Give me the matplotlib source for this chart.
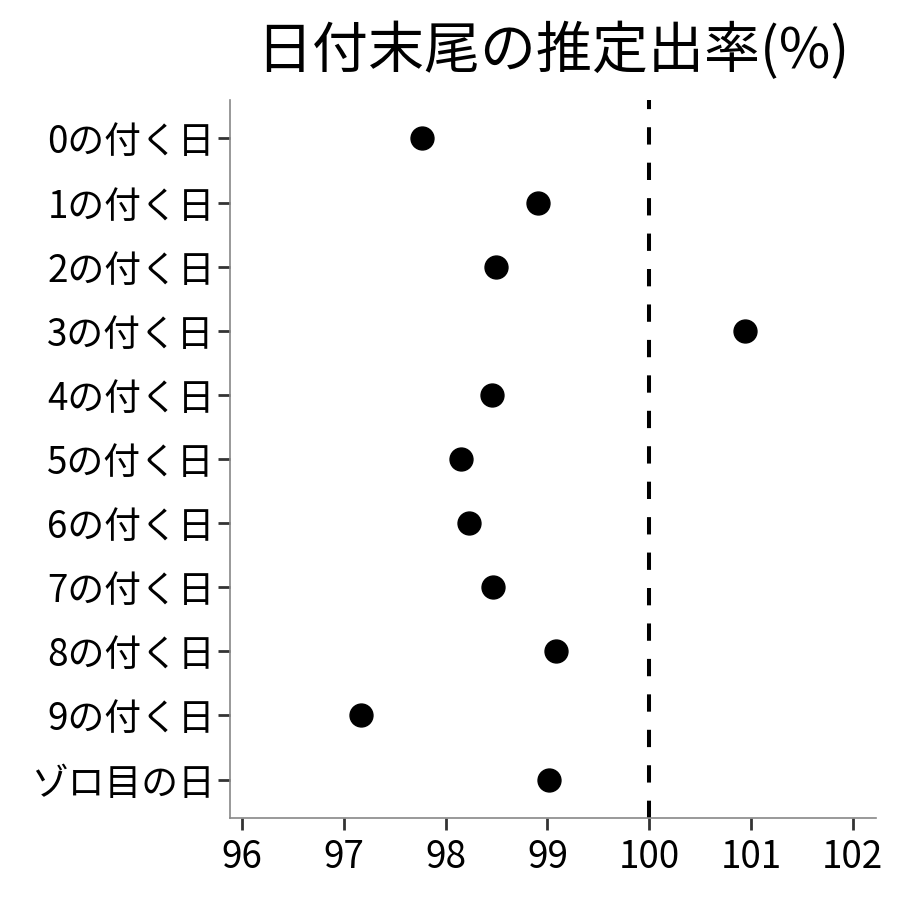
import matplotlib
matplotlib.use("Agg")
import matplotlib.pyplot as plt

plt.rcParams['font.family'] = ['Noto Sans CJK JP', 'DejaVu Sans']

# 日付末尾ごとの推定出率(%)
labels = ['0の付く日', '1の付く日', '2の付く日', '3の付く日', '4の付く日',
          '5の付く日', '6の付く日', '7の付く日', '8の付く日', '9の付く日',
          'ゾロ目の日']
rates = [97.77, 98.91, 98.49, 100.94, 98.46, 98.15, 98.23, 98.47, 99.08,
         97.17, 99.02]
xticks = [96, 97, 98, 99, 100, 101, 102]

fig = plt.figure(figsize=(9, 9), dpi=100)
ax = fig.add_axes([230 / 900, 1 - 818 / 900, 646 / 900, 718 / 900])

pos = list(range(len(labels)))
ax.axvline(100, color='black', lw=2.9, ls=(0, (4.3, 4.5)), zorder=1)
ax.plot(rates, pos, 'o', color='black', markersize=16.5, zorder=2)

ax.set_xlim(95.88, 102.23)
ax.set_ylim(len(labels) - 0.4, -0.6)
ax.set_xticks(xticks)
ax.set_xticklabels([str(t) for t in xticks])
ax.set_yticks(pos)
ax.set_yticklabels(labels)

for s in ['top', 'right']:
    ax.spines[s].set_visible(False)
for s in ['left', 'bottom']:
    ax.spines[s].set_color('#888888')
    ax.spines[s].set_linewidth(1.2)

ax.tick_params(axis='both', colors='#333333', labelcolor='black',
               length=8.5, width=2, labelsize=26.5)
ax.tick_params(axis='y', pad=2.5)
ax.tick_params(axis='x', pad=6)

ax.set_title('日付末尾の推定出率(%)', fontsize=40.3, pad=23)

fig.savefig('out.png', dpi=100)
